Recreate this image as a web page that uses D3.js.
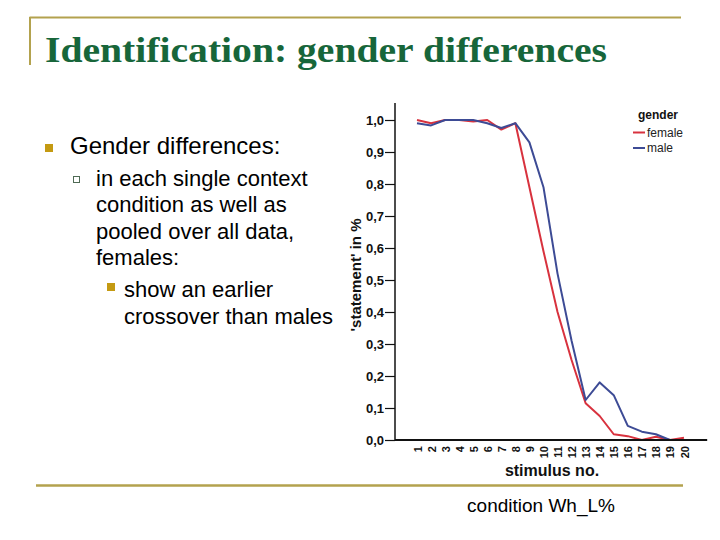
<!DOCTYPE html>
<html><head><meta charset="utf-8">
<script src="https://cdn.jsdelivr.net/npm/d3@7"></script>
<style>body{margin:0;background:#fff}svg{display:block}</style>
</head><body>
<svg id="c" width="720" height="540"></svg>
<script>
const stimuli = [1,2,3,4,5,6,7,8,9,10,11,12,13,14,15,16,17,18,19,20];
const female = [1.00,0.99,1.00,1.00,0.995,1.00,0.97,0.99,0.79,0.59,0.40,0.25,0.115,0.075,0.018,0.012,0.0,0.01,0.0,0.007];
const male   = [0.99,0.983,1.00,1.00,1.00,0.99,0.975,0.99,0.93,0.79,0.52,0.31,0.125,0.18,0.14,0.044,0.026,0.018,0.0,0.0];
const yTicks = [0,0.1,0.2,0.3,0.4,0.5,0.6,0.7,0.8,0.9,1.0];
const seriesNames = ["female","male"];
const seriesColors = ["#d8323e","#3d4b95"];
const title = "Identification: gender differences";
const bullets = ["Gender differences:"];
const subBullet = ["in each single context","condition as well as","pooled over all data,","females:"];
const subSubBullet = ["show an earlier","crossover than males"];
const caption = "condition Wh_L%";

const svg = d3.select("#c");
const gold = "#b3a24e";
const sans = "'Liberation Sans', Arial, sans-serif";

// slide frame
svg.append("line").attr("x1",29.5).attr("x2",681).attr("y1",17.5).attr("y2",17.5).attr("stroke",gold).attr("stroke-width",2);
svg.append("line").attr("x1",30).attr("x2",30).attr("y1",17).attr("y2",65).attr("stroke",gold).attr("stroke-width",2);
svg.append("line").attr("x1",36).attr("x2",683).attr("y1",485.5).attr("y2",485.5).attr("stroke",gold).attr("stroke-width",2.5);

const tt = svg.append("text").attr("x",45).attr("y",62).text(title)
  .attr("font-family","'Liberation Serif','Times New Roman',serif").attr("font-size",36).attr("font-weight","bold").attr("fill","#17663a");
const tw = tt.node().getComputedTextLength();
if (Math.abs(tw-562) > 4) tt.attr("textLength",562).attr("lengthAdjust","spacingAndGlyphs");

// bullets
svg.append("rect").attr("x",45).attr("y",144).attr("width",8).attr("height",8).attr("fill","#c49a12");
svg.append("text").attr("x",70).attr("y",154).text(bullets[0]).attr("font-family",sans).attr("font-size",24).attr("fill","#000");
svg.append("rect").attr("x",73.5).attr("y",176.5).attr("width",6).attr("height",6).attr("fill","none").attr("stroke","#4f6b55").attr("stroke-width",1);
subBullet.forEach((t,i)=>svg.append("text").attr("x",96).attr("y",186+i*26.3).text(t).attr("font-family",sans).attr("font-size",22).attr("fill","#000"));
svg.append("rect").attr("x",107).attr("y",283).attr("width",8).attr("height",8).attr("fill","#c49a12");
subSubBullet.forEach((t,i)=>svg.append("text").attr("x",124).attr("y",297+i*26.5).text(t).attr("font-family",sans).attr("font-size",22).attr("fill","#000"));

svg.append("text").attr("x",541).attr("y",512).attr("text-anchor","middle").text(caption)
  .attr("font-family",sans).attr("font-size",19).attr("fill","#000");

// chart
const x = d3.scaleLinear().domain([1,20]).range([417,684]);
const y = d3.scaleLinear().domain([0,1]).range([440,120]);
const axisX = 395;

const lineGen = d3.line().x((d,i)=>x(stimuli[i])).y(d=>y(d));
[female, male].forEach((s,k)=>{
  svg.append("path").datum(s).attr("d",lineGen).attr("fill","none")
    .attr("stroke",seriesColors[k]).attr("stroke-width",2).attr("stroke-linejoin","round");
});

const yAxis = d3.axisLeft(y).tickValues(yTicks).tickSize(10).tickPadding(1)
  .tickFormat(d=>d3.format(".1f")(d).replace(".",","));
const gy = svg.append("g").attr("transform",`translate(${axisX},0)`).call(yAxis);
gy.select(".domain").remove();
gy.selectAll("text").attr("font-family",sans).attr("font-size",13).attr("font-weight","bold").attr("fill","#111");
gy.selectAll(".tick line").attr("stroke","#111").attr("stroke-width",1.2);
svg.append("line").attr("x1",axisX).attr("x2",axisX).attr("y1",y(1.053)).attr("y2",y(0)+1).attr("stroke","#111").attr("stroke-width",1.5);

const xAxis = d3.axisBottom(x).tickValues(stimuli).tickSize(0).tickPadding(0).tickFormat(d=>d);
const gx = svg.append("g").attr("transform",`translate(0,${y(0)})`).call(xAxis);
gx.select(".domain").remove();
gx.selectAll(".tick text").attr("font-family",sans).attr("font-size",11).attr("font-weight","bold").attr("fill","#111")
  .attr("text-anchor","end").attr("dy",0).attr("y",0)
  .attr("transform","translate(4,6) rotate(-90)");
svg.append("line").attr("x1",axisX).attr("x2",x(21.65)).attr("y1",y(0)).attr("y2",y(0)).attr("stroke","#111").attr("stroke-width",2);

svg.append("text").attr("x",552).attr("y",476).attr("text-anchor","middle").text("stimulus no.")
  .attr("font-family",sans).attr("font-size",16).attr("font-weight","bold").attr("fill","#111");
svg.append("text").attr("transform","translate(361,275) rotate(-90)").attr("text-anchor","middle")
  .text("'statement' in %").attr("font-family",sans).attr("font-size",15).attr("font-weight","bold").attr("fill","#111");

// legend
svg.append("text").attr("x",658).attr("y",119).attr("text-anchor","middle").text("gender")
  .attr("font-family",sans).attr("font-size",12).attr("font-weight","bold").attr("fill","#111");
seriesNames.forEach((n,i)=>{
  const ly = 132.5 + i*15.5;
  svg.append("line").attr("x1",633).attr("x2",645).attr("y1",ly).attr("y2",ly).attr("stroke",seriesColors[i]).attr("stroke-width",2);
  svg.append("text").attr("x",647).attr("y",ly+4).text(n).attr("font-family",sans).attr("font-size",12).attr("fill","#222");
});
</script>
</body></html>
